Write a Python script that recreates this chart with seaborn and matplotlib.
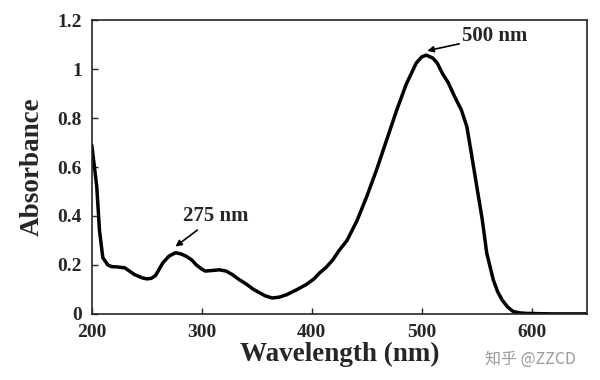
import numpy as np
import pandas as pd
import seaborn as sns
import matplotlib.pyplot as plt

# spectrum
wavelength = [200, 204.5, 207, 210, 214.5, 218, 222.7, 230, 239, 246, 250, 254, 258, 264.5,
              270, 276, 281, 286, 291, 295, 300, 303, 309, 316, 322, 328, 334, 341, 347,
              353, 358, 364, 370, 377, 386, 395, 402, 407, 413, 419, 425, 432, 441,
              450, 459, 468, 477, 486, 495, 500, 504, 510, 514, 519, 524, 530, 536,
              541, 545, 550, 555, 559, 565, 569, 573, 578, 583, 589, 595, 605, 620, 650]
absorbance = [0.69, 0.52, 0.34, 0.23, 0.20, 0.193, 0.192, 0.188, 0.16, 0.147, 0.143, 0.145,
              0.157, 0.208, 0.235, 0.25, 0.245, 0.235, 0.22, 0.20, 0.183, 0.175, 0.177,
              0.18, 0.175, 0.16, 0.14, 0.12, 0.10, 0.085, 0.073, 0.065, 0.068, 0.078, 0.098,
              0.12, 0.143, 0.167, 0.19, 0.22, 0.26, 0.30, 0.38, 0.48, 0.59, 0.71, 0.83,
              0.94, 1.025, 1.05, 1.057, 1.045, 1.025, 0.98, 0.945, 0.886, 0.833, 0.764,
              0.657, 0.52, 0.384, 0.249, 0.139, 0.09, 0.057, 0.028, 0.01, 0.004, 0.002,
              0.001, 0.0, 0.0]

x_ticks = [200, 300, 400, 500, 600]
y_ticks = [0, 0.2, 0.4, 0.6, 0.8, 1.0, 1.2]
y_ticklabels = ["0", "0.2", "0.4", "0.6", "0.8", "1", "1.2"]

df = pd.DataFrame({"Wavelength": wavelength, "Absorbance": absorbance})

sns.set_style("ticks")
plt.rcParams['font.family'] = ['Liberation Serif', 'DejaVu Serif']

fig = plt.figure(figsize=(6, 3.8), dpi=100)
ax = fig.add_axes([0.153, 0.174, 0.825, 0.773])

sns.lineplot(data=df, x="Wavelength", y="Absorbance", color="black", linewidth=2.5,
             solid_joinstyle="round", solid_capstyle="round", ax=ax)

ax.set_xlim(200, 650)
ax.set_ylim(0, 1.2)
ax.set_xticks(x_ticks)
ax.set_yticks(y_ticks)
ax.set_yticklabels(y_ticklabels)
ax.tick_params(direction="in", length=4, width=1, labelsize=14, pad=7)
for lab in ax.get_xticklabels() + ax.get_yticklabels():
    lab.set_fontweight("bold")
for s in ax.spines.values():
    s.set_linewidth(1.2)
    s.set_visible(True)

ax.set_xlabel("Wavelength (nm)", fontsize=19.5, fontweight="bold", labelpad=1)
ax.set_ylabel("Absorbance", fontsize=19.5, fontweight="bold", labelpad=9)

ax.annotate("500 nm", xy=(505, 1.075), xytext=(537, 1.135), fontsize=15, fontweight="bold",
            va="center", ha="left",
            arrowprops=dict(arrowstyle="-|>", color="black", lw=1.2, mutation_scale=9,
                            shrinkA=0, shrinkB=0))
ax.annotate("275 nm", xy=(276, 0.275), xytext=(313, 0.40), fontsize=15, fontweight="bold",
            va="center", ha="center",
            arrowprops=dict(arrowstyle="-|>", color="black", lw=1.2, mutation_scale=9,
                            shrinkA=1, shrinkB=0))

fig.text(0.96, 0.055, "知乎 @ZZCD", fontsize=11.5, color="#9a9a9a", ha="right", va="center",
         family=['Noto Sans CJK SC', 'DejaVu Sans'])

fig.savefig("out.png", dpi=100)
